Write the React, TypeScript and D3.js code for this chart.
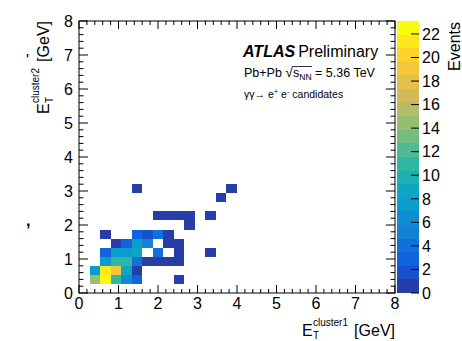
import React from 'react';
import * as d3 from 'd3';

// ---- data (30x30 bins on [0,8] GeV in both axes) ----
const xBinIndex = [1, 2, 3, 4, 5, 9, 1, 2, 3, 4, 5, 2, 3, 4, 5, 6, 7, 8, 9, 2, 3, 4, 5, 7, 9, 12, 3, 4, 5, 6, 8, 9, 2, 5, 6, 7, 8, 10, 7, 8, 9, 10, 12, 13, 5, 14];
const yBinIndex = [1, 1, 1, 1, 1, 1, 2, 2, 2, 2, 2, 3, 3, 3, 3, 3, 3, 3, 3, 4, 4, 4, 4, 4, 4, 4, 5, 5, 5, 5, 5, 5, 6, 6, 6, 6, 6, 7, 8, 8, 8, 8, 8, 10, 11, 11];
const counts = [14, 22, 11, 6, 3, 1, 8, 21, 19, 9, 1, 7, 11, 11, 4, 1, 1, 1, 1, 3, 7, 8, 9, 4, 1, 1, 1, 3, 8, 5, 1, 1, 1, 3, 2, 4, 1, 1, 1, 1, 1, 1, 1, 1, 1, 1];

const nBins = 30;
const axisRange = [0, 8];
const axisTicks = [0, 1, 2, 3, 4, 5, 6, 7, 8];
const zTicks = [0, 2, 4, 6, 8, 10, 12, 14, 16, 18, 20, 22];
const zMax = 23.1;
const nContours = 20;

// ROOT kBird palette
const birdStops = [0.0, 0.125, 0.25, 0.375, 0.5, 0.625, 0.75, 0.875, 1.0];
const birdR = [0.2082, 0.0592, 0.078, 0.0232, 0.1802, 0.5301, 0.8186, 0.9956, 0.9764];
const birdG = [0.1664, 0.3599, 0.5041, 0.6419, 0.7178, 0.7492, 0.7328, 0.7862, 0.9832];
const birdB = [0.5293, 0.8684, 0.8385, 0.7914, 0.6425, 0.4662, 0.3499, 0.1968, 0.0539];

const W = 462;
const H = 341;
const L = 79, R = 395, T = 21, B = 293;
const FONT = '"Liberation Sans", Arial, Helvetica, sans-serif';

const rScale = d3.scaleLinear(birdStops, birdR).clamp(true);
const gScale = d3.scaleLinear(birdStops, birdG).clamp(true);
const bScale = d3.scaleLinear(birdStops, birdB).clamp(true);
function levelColor(k: number) {
  const idx = Math.floor(((k + 0.99) * 255) / nContours);
  const t = Math.min(1, idx / 254);
  return d3.rgb(rScale(t) * 255, gScale(t) * 255, bScale(t) * 255).formatHex();
}
function zLevel(z: number) {
  return Math.min(nContours - 1, Math.floor(0.01 + (z * nContours) / zMax));
}

export default function App() {
  const x = d3.scaleLinear(axisRange, [L, R]);
  const y = d3.scaleLinear(axisRange, [B, T]);
  const z = d3.scaleLinear([0, zMax], [B, T]);
  const bw = (axisRange[1] - axisRange[0]) / nBins;

  const minor = d3.range(0, 8.0001, 0.2);
  const cbL = 397, cbR = 419;

  return (
    <svg width={W} height={H} style={{ position: 'absolute', left: 0, top: 0, background: '#fff' }} fontFamily={FONT}>
      <rect x={0} y={0} width={W} height={H} fill="#fff" />
      {/* bins */}
      <g shapeRendering="crispEdges">
        {counts.map((c, i) => {
          const x0 = x(xBinIndex[i] * bw), x1 = x((xBinIndex[i] + 1) * bw);
          const y0 = y((yBinIndex[i] + 1) * bw), y1 = y(yBinIndex[i] * bw);
          return <rect key={i} x={x0} y={y0} width={x1 - x0} height={y1 - y0} fill={levelColor(zLevel(c))} />;
        })}
      </g>
      {/* frame */}
      <rect x={L} y={T} width={R - L} height={B - T} fill="none" stroke="#000" strokeWidth={1} />
      {/* ticks */}
      <g stroke="#000" strokeWidth={1}>
        {minor.map((v, i) => {
          const major = Math.abs(v - Math.round(v)) < 1e-6;
          const lx = major ? 8 : 4;
          const ly = major ? 9 : 4.5;
          return (
            <g key={i}>
              <line x1={x(v)} x2={x(v)} y1={B} y2={B - lx} />
              <line x1={x(v)} x2={x(v)} y1={T} y2={T + lx} />
              <line x1={L} x2={L + ly} y1={y(v)} y2={y(v)} />
              <line x1={R} x2={R - ly} y1={y(v)} y2={y(v)} />
            </g>
          );
        })}
      </g>
      {/* tick labels */}
      <g fontSize={16} fill="#000">
        {axisTicks.map((v) => (
          <text key={'x' + v} x={x(v)} y={309} textAnchor="middle">{v}</text>
        ))}
        {axisTicks.map((v) => (
          <text key={'y' + v} x={73} y={y(v)} dy="0.36em" textAnchor="end">{v}</text>
        ))}
      </g>
      {/* x title */}
      <g fill="#000">
        <text x={302} y={336} fontSize={16}>E</text>
        <text x={313} y={326} fontSize={10}>cluster1</text>
        <text x={313} y={339} fontSize={10}>T</text>
        <text x={395} y={336} fontSize={16} textAnchor="end">[GeV]</text>
      </g>
      {/* y title */}
      <g fill="#000" transform={`translate(49, ${B}) rotate(-90)`}>
        <text x={179} y={0} fontSize={16}>E</text>
        <text x={190} y={-10} fontSize={10}>cluster2</text>
        <text x={190} y={4} fontSize={10}>T</text>
        <text x={272} y={0} fontSize={16} textAnchor="end">[GeV]</text>
      </g>
      {/* colour bar */}
      <g shapeRendering="crispEdges">
        {d3.range(nContours).map((k) => (
          <rect key={k} x={cbL} y={z(((k + 1) * zMax) / nContours)} width={cbR - cbL}
            height={z((k * zMax) / nContours) - z(((k + 1) * zMax) / nContours)} fill={levelColor(k)} />
        ))}
      </g>
      <g stroke="#000" strokeWidth={1}>
        {zTicks.map((v) => (
          <line key={v} x1={cbR - 8} x2={cbR} y1={z(v)} y2={z(v)} />
        ))}
      </g>
      <g fontSize={16} fill="#000">
        {zTicks.map((v) => (
          <text key={v} x={422} y={z(v)} dy="0.36em">{v}</text>
        ))}
      </g>
      <text transform="translate(460, 22) rotate(-90)" textAnchor="end" fontSize={16} fill="#000">Events</text>
      {/* labels */}
      <text x={243} y={57} fontSize={16} fill="#000">
        <tspan fontWeight="bold" fontStyle="italic">ATLAS</tspan>
        <tspan dx={3}>Preliminary</tspan>
      </text>
      <text x={244} y={77} fontSize={12.5} fill="#000">
        Pb+Pb <tspan fontSize={14}>√</tspan><tspan>s</tspan><tspan dy={3} fontSize={8.5}>NN</tspan><tspan dy={-3}> = 5.36 TeV</tspan>
      </text>
      <line x1={293} x2={312} y1={66.5} y2={66.5} stroke="#000" strokeWidth={0.8} />
      <text x={244} y={98} fontSize={10.5} fill="#000">
        γγ→ e<tspan dy={-4} fontSize={7.5}>+</tspan><tspan dy={4}> e</tspan><tspan dy={-4} fontSize={7.5}>-</tspan><tspan dy={4}> candidates</tspan>
      </text>
      {/* stray crop marks */}
      <text x={26} y={66} fontSize={16} fill="#000">'</text>
      <text x={26} y={226} fontSize={16} fill="#000" fontWeight="bold">,</text>
    </svg>
  );
}
